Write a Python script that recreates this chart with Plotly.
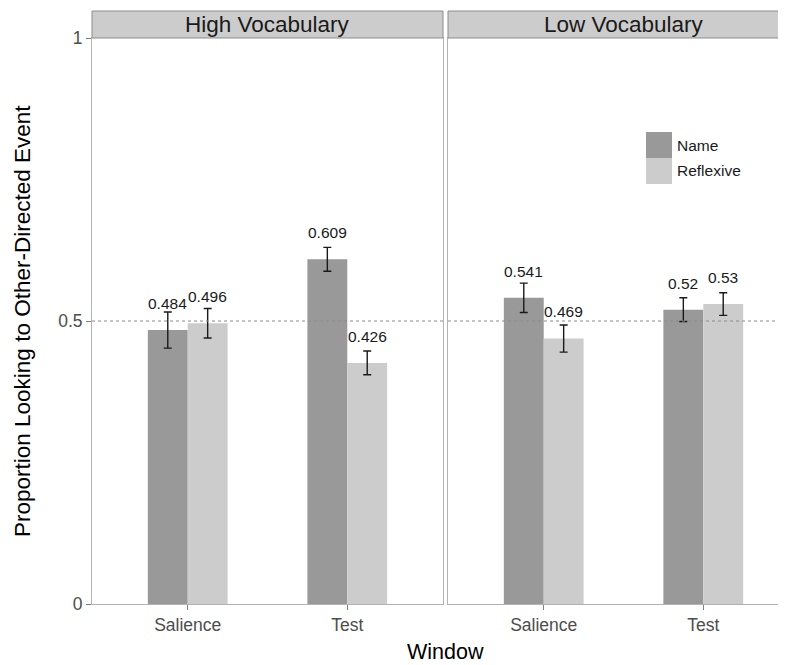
import plotly.graph_objects as go

# ---- data ----
windows = ["Salience", "Test"]
panels = ["High Vocabulary", "Low Vocabulary"]
series = ["Name", "Reflexive"]
high_name = [0.484, 0.609]
high_refl = [0.496, 0.426]
low_name = [0.541, 0.520]
low_refl = [0.469, 0.530]
high_name_se = [0.032, 0.021]
high_refl_se = [0.026, 0.021]
low_name_se = [0.026, 0.021]
low_refl_se = [0.024, 0.020]
y_ticks = [0, 0.5, 1]
y_tick_labels = ["0", "0.5", "1"]
reference_line = 0.5

# ---- style ----
colors = {"Name": "#999999", "Reflexive": "#cccccc"}
WIN_W, WIN_H = 786, 665
OFF = 8  # default page body margin
W, H = WIN_W - OFF, WIN_H - OFF
FONT = "Liberation Sans, Arial, Helvetica, sans-serif"
dodge = 0.25
label_offset = 0.047

# panel pixel geometry (window pixels)
left_px = (92, 443)
right_px = (448, 785)
top_px, bottom_px = 38, 604
strip_top_px = 11

def px_x(p):
    return (p - OFF) / W

def px_y(p):
    return 1 - (p - OFF) / H

fig = go.Figure()

panel_data = [
    (high_name, high_refl, high_name_se, high_refl_se),
    (low_name, low_refl, low_name_se, low_refl_se),
]
xpos = [i + 1 for i in range(len(windows))]

annotations = []
for pi, (nm, rf, nm_se, rf_se) in enumerate(panel_data):
    xa = "x" if pi == 0 else "x2"
    ya = "y" if pi == 0 else "y2"
    for si, (vals, ses) in enumerate([(nm, nm_se), (rf, rf_se)]):
        off = (si - 0.5) * dodge
        xs = [x + off for x in xpos]
        fig.add_trace(go.Bar(
            x=xs, y=vals, width=dodge, xaxis=xa, yaxis=ya,
            marker=dict(color=colors[series[si]], line=dict(width=0)),
            error_y=dict(type="data", array=ses, visible=True,
                         color="#1a1a1a", thickness=1.4, width=4),
            showlegend=False, name=series[si],
        ))
        for x, v in zip(xs, vals):
            annotations.append(dict(
                x=x, y=v + label_offset, xref=xa, yref=ya,
                text=f"{v:g}", showarrow=False,
                font=dict(family=FONT, size=15.5, color="#1a1a1a"),
                xanchor="center", yanchor="middle",
            ))

shapes = []
# reference dotted lines
for xr in ["x domain", "x2 domain"]:
    shapes.append(dict(type="line", xref=xr, yref="y",
                       x0=0, x1=1, y0=reference_line, y1=reference_line,
                       line=dict(color="#8c8c8c", width=1.1, dash="dot"),
                       layer="above"))
# strips
panel_w = left_px[1] - left_px[0]
for (x0, x1), label in zip([left_px, right_px], panels):
    shapes.append(dict(type="rect", xref="paper", yref="paper",
                       x0=px_x(x0), x1=px_x(x1),
                       y0=px_y(top_px), y1=px_y(strip_top_px),
                       fillcolor="#cccccc", line=dict(color="#8c8c8c", width=1)))
    annotations.append(dict(x=px_x(x0 + panel_w / 2),
                            y=px_y((top_px + strip_top_px) / 2),
                            xref="paper", yref="paper", text=label,
                            showarrow=False, xanchor="center", yanchor="middle",
                            font=dict(family=FONT, size=22.5, color="#1a1a1a")))

# legend (manual)
leg_x0, leg_x1 = 646, 672
leg_rows = [(132, 158), (158, 184)]
for (y0, y1), s in zip(leg_rows, series):
    shapes.append(dict(type="rect", xref="paper", yref="paper",
                       x0=px_x(leg_x0), x1=px_x(leg_x1),
                       y0=px_y(y1), y1=px_y(y0),
                       fillcolor=colors[s], line=dict(width=0)))
    annotations.append(dict(x=px_x(leg_x1 + 3), y=px_y((y0 + y1) / 2),
                            xref="paper", yref="paper", text=s,
                            showarrow=False, xanchor="left", yanchor="middle",
                            font=dict(family=FONT, size=15.5, color="#1a1a1a")))

# axis titles
annotations.append(dict(x=px_x(445), y=px_y(652), xref="paper", yref="paper",
                        text="Window", showarrow=False,
                        xanchor="center", yanchor="middle",
                        font=dict(family=FONT, size=21.5, color="#000000")))
annotations.append(dict(x=px_x(22), y=px_y((top_px + bottom_px) / 2),
                        xref="paper", yref="paper",
                        text="Proportion Looking to Other-Directed Event",
                        showarrow=False, textangle=-90,
                        xanchor="center", yanchor="middle",
                        font=dict(family=FONT, size=22.5, color="#000000")))

unit_px = panel_w / 2.2
right_range = [0.4, 0.4 + (right_px[1] - right_px[0]) / unit_px]

axis_common = dict(showgrid=False, zeroline=False, showline=True, mirror=True,
                   linecolor="#b3b3b3", linewidth=1, ticks="outside",
                   ticklen=5, tickcolor="#7f7f7f", automargin=False,
                   tickfont=dict(family=FONT, size=17.5, color="#4d4d4d"))

yaxis2_common = {k: v for k, v in axis_common.items() if k != "ticks"}

fig.update_layout(
    width=W, height=H,
    margin=dict(l=0, r=0, t=0, b=0),
    paper_bgcolor="white", plot_bgcolor="white",
    barmode="overlay",
    xaxis=dict(domain=[px_x(left_px[0]), px_x(left_px[1])], range=[0.4, 2.6],
               tickvals=xpos, ticktext=windows, **axis_common),
    xaxis2=dict(domain=[px_x(right_px[0]), px_x(right_px[1])], range=right_range,
                tickvals=xpos, ticktext=windows, anchor="y2", **axis_common),
    yaxis=dict(domain=[px_y(bottom_px), px_y(top_px)], range=[0, 1],
               tickvals=y_ticks, ticktext=y_tick_labels, **axis_common),
    yaxis2=dict(domain=[px_y(bottom_px), px_y(top_px)], range=[0, 1],
                anchor="x2", showticklabels=False, ticks="", **yaxis2_common),
    shapes=shapes,
    annotations=annotations,
)

fig.write_html("out.html")
